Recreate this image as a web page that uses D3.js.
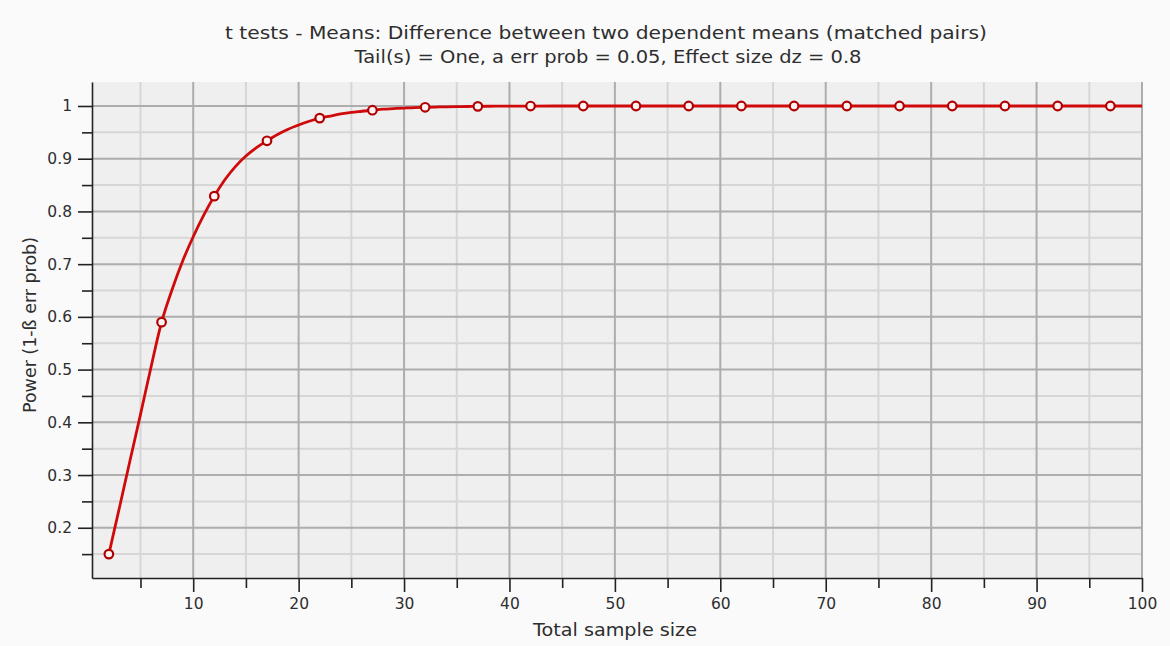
<!DOCTYPE html>
<html>
<head>
<meta charset="utf-8">
<script src="https://cdn.jsdelivr.net/npm/d3@7"></script>
<style>
  html, body { margin: 0; padding: 0; background: #fafafa; }
  svg { display: block; }
  text { font-family: "DejaVu Sans", sans-serif; fill: #2e2e2e; }
</style>
</head>
<body>
<svg id="chart" width="1170" height="646"></svg>
<script>
// Title lines
const titleLines = [
  "t tests - Means: Difference between two dependent means (matched pairs)",
  "Tail(s) = One, a err prob = 0.05, Effect size dz = 0.8"
];
const xLabel = "Total sample size";
const yLabel = "Power (1-ß err prob)";

// Power curve: total sample size and power
const sampleSize = [2, 3, 4, 5, 6, 7, 8, 9, 10, 11, 12, 13, 14, 15, 16, 17, 18, 19, 20,
  21, 22, 23, 24, 25, 26, 27, 28, 29, 30, 31, 32, 33, 34, 35, 36, 37, 38, 39, 40,
  42, 47, 52, 57, 62, 67, 72, 77, 82, 87, 92, 97, 100];
const power = [0.150, 0.238, 0.327, 0.415, 0.505, 0.590, 0.652, 0.706, 0.752, 0.793, 0.829,
  0.860, 0.885, 0.905, 0.921, 0.934, 0.946, 0.956, 0.964, 0.971, 0.977, 0.981, 0.985,
  0.988, 0.990, 0.992, 0.994, 0.995, 0.996, 0.997, 0.9975, 0.998, 0.9985, 0.9988, 0.999,
  0.9993, 0.9995, 0.9996, 0.9997, 0.9999, 1, 1, 1, 1, 1, 1, 1, 1, 1, 1, 1, 1];
// Sample sizes that carry a marker
const markerSizes = [2, 7, 12, 17, 22, 27, 32, 37, 42, 47, 52, 57, 62, 67, 72, 77, 82, 87, 92, 97];

// Axis ticks
const xMajorTicks = [10, 20, 30, 40, 50, 60, 70, 80, 90, 100];
const xMinorTicks = [5, 15, 25, 35, 45, 55, 65, 75, 85, 95];
const yMajorTicks = [0.2, 0.3, 0.4, 0.5, 0.6, 0.7, 0.8, 0.9, 1];
const yMinorTicks = [0.15, 0.25, 0.35, 0.45, 0.55, 0.65, 0.75, 0.85, 0.95];

const data = sampleSize.map((n, i) => ({ n, p: power[i] }));
const markers = data.filter(d => markerSizes.includes(d.n));

const svg = d3.select("#chart");
const plot = { left: 92, right: 1142, top: 82, bottom: 578 };

const x = d3.scaleLinear().domain([0.4, 100]).range([plot.left, plot.right]);
const y = d3.scaleLinear().domain([0.1047, 1.0455]).range([plot.bottom, plot.top]);

// Plot background
svg.append("rect")
  .attr("x", plot.left).attr("y", plot.top)
  .attr("width", plot.right - plot.left).attr("height", plot.bottom - plot.top)
  .attr("fill", "#efefef");

// Grid lines: light at the half steps, darker at the labelled steps
const grid = svg.append("g");
grid.selectAll(".yminor").data(yMinorTicks).join("line")
  .attr("x1", plot.left).attr("x2", plot.right)
  .attr("y1", d => y(d)).attr("y2", d => y(d))
  .attr("stroke", "#d6d6d6").attr("stroke-width", 2);
grid.selectAll(".xminor").data(xMinorTicks).join("line")
  .attr("y1", plot.top).attr("y2", plot.bottom)
  .attr("x1", d => x(d)).attr("x2", d => x(d))
  .attr("stroke", "#d6d6d6").attr("stroke-width", 2);
grid.selectAll(".ymajor").data(yMajorTicks).join("line")
  .attr("x1", plot.left).attr("x2", plot.right)
  .attr("y1", d => y(d)).attr("y2", d => y(d))
  .attr("stroke", "#adadad").attr("stroke-width", 2);
grid.selectAll(".xmajor").data(xMajorTicks).join("line")
  .attr("y1", plot.top).attr("y2", plot.bottom)
  .attr("x1", d => x(d)).attr("x2", d => x(d))
  .attr("stroke", "#adadad").attr("stroke-width", 2);

// Axes
const fmtY = d => d === 1 ? "1" : d3.format(".1f")(d);
svg.append("g")
  .attr("transform", `translate(${plot.left},0)`)
  .call(d3.axisLeft(y).tickValues(yMajorTicks).tickFormat(fmtY).tickSize(14).tickSizeOuter(0).tickPadding(6));
svg.append("g")
  .attr("transform", `translate(${plot.left},0)`)
  .call(d3.axisLeft(y).tickValues(yMinorTicks).tickFormat("").tickSize(10).tickSizeOuter(0))
  .call(g => g.select(".domain").remove());

svg.append("g")
  .attr("transform", `translate(0,${plot.bottom})`)
  .call(d3.axisBottom(x).tickValues(xMajorTicks).tickSize(14).tickSizeOuter(0).tickPadding(6));
svg.append("g")
  .attr("transform", `translate(0,${plot.bottom})`)
  .call(d3.axisBottom(x).tickValues(xMinorTicks).tickFormat("").tickSize(10).tickSizeOuter(0))
  .call(g => g.select(".domain").remove());

svg.selectAll(".domain").attr("stroke", "#222").attr("stroke-width", 1.6);
svg.selectAll(".tick line").attr("stroke", "#222").attr("stroke-width", 1.6);
svg.selectAll(".tick text").attr("font-size", 15.5).attr("fill", "#333")
  .attr("font-family", "\"DejaVu Sans\", sans-serif");

// Power curve
svg.append("path")
  .datum(data)
  .attr("fill", "none")
  .attr("stroke", "#d00a0a")
  .attr("stroke-width", 2.8)
  .attr("stroke-linejoin", "round")
  .attr("d", d3.line().x(d => x(d.n)).y(d => y(d.p)).curve(d3.curveMonotoneX));

svg.selectAll(".marker").data(markers).join("circle")
  .attr("cx", d => x(d.n)).attr("cy", d => y(d.p))
  .attr("r", 4.3)
  .attr("fill", "#fff4f4")
  .attr("stroke", "#b00000")
  .attr("stroke-width", 2.2);

// Titles and axis labels
svg.append("text").attr("x", 606).attr("y", 39).attr("text-anchor", "middle")
  .attr("font-size", 18).attr("textLength", 762).attr("lengthAdjust", "spacingAndGlyphs")
  .text(titleLines[0]);
svg.append("text").attr("x", 608).attr("y", 63).attr("text-anchor", "middle")
  .attr("font-size", 18).attr("textLength", 507).attr("lengthAdjust", "spacingAndGlyphs")
  .text(titleLines[1]);

svg.append("text").attr("x", 615).attr("y", 636).attr("text-anchor", "middle")
  .attr("font-size", 17).attr("textLength", 164).attr("lengthAdjust", "spacingAndGlyphs")
  .text(xLabel);
svg.append("text")
  .attr("transform", "translate(36,325) rotate(-90)")
  .attr("text-anchor", "middle").attr("font-size", 17)
  .attr("textLength", 176).attr("lengthAdjust", "spacingAndGlyphs")
  .text(yLabel);
</script>
</body>
</html>
